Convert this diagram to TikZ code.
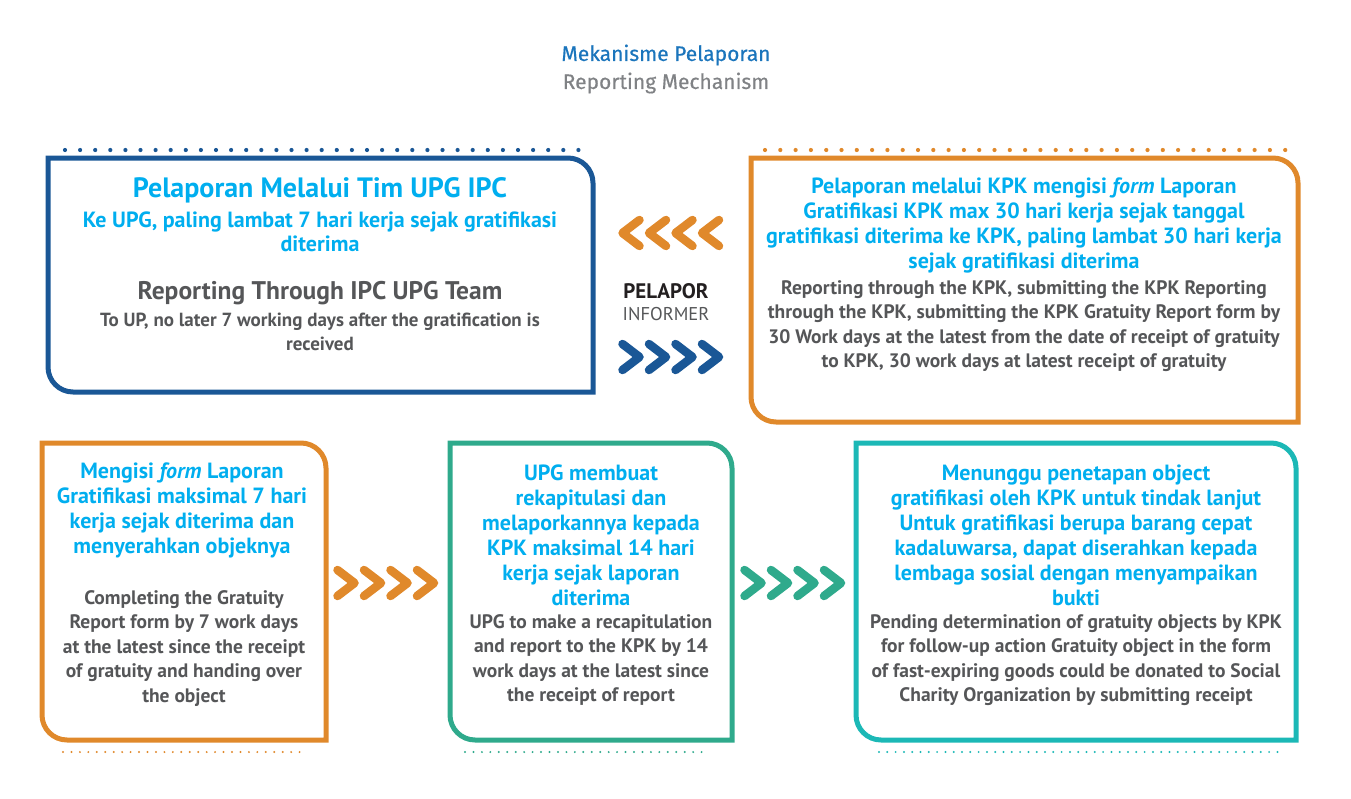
\documentclass[tikz,border=0pt]{standalone}
\usepackage{fontspec}
\setmainfont{PT Sans}
\newfontfamily\titlefont{Fira Sans}[FakeBold=0.5]
\definecolor{cyanT}{HTML}{00AEEF}
\definecolor{grayT}{HTML}{555658}
\definecolor{blueB}{HTML}{1A5796}
\definecolor{orangeB}{HTML}{E0892B}
\definecolor{greenB}{HTML}{2FAA8C}
\definecolor{tealB}{HTML}{1CB8B6}
\definecolor{titleBlue}{HTML}{1B75BC}
\definecolor{titleGray}{HTML}{808285}
\definecolor{darkT}{HTML}{231F20}
\newcommand\ubox[5]{%
  \draw[line width=5pt,#5] (#1,#2) -- ({#3-25},#2) arc[start angle=-90,end angle=0,radius=25]
    -- (#3,#4) -- ({#1+25},#4) arc[start angle=90,end angle=180,radius=25] -- cycle;}
\newcommand\chevR[3]{\draw[chev,#3] ({#1-8.5},{#2-13}) -- ({#1+8.5},#2) -- ({#1-8.5},{#2+13});}
\newcommand\chevL[3]{\draw[chev,#3] ({#1+8.5},{#2-13}) -- ({#1-8.5},#2) -- ({#1+8.5},{#2+13});}
\tikzset{
  chev/.style={line width=8.5pt,line cap=round,line join=round},
  cy/.style={text=cyanT,align=center,inner sep=0pt,font=\bfseries\fontsize{22}{25}\selectfont},
  gr/.style={text=grayT,align=center,inner sep=0pt,font=\bfseries\fontsize{19.5}{24.5}\selectfont},
}
\begin{document}
\begin{tikzpicture}[x=1pt,y=-1pt]
\useasboundingbox (0,0) rectangle (1351,798);
% title
\node[text=titleBlue,font=\titlefont\fontsize{21}{24}\selectfont] (t1) at (666,55) {Mekanisme Pelaporan};
\node[text=titleGray,font=\titlefont\fontsize{21}{24}\selectfont] (t2) at (666,83) {Reporting Mechanism};
% dotted lines
\foreach \i in {0,...,34} {\fill[blueB] ({65+15.1*\i},150) circle (2.1);}
\foreach \i in {0,...,34} {\fill[orangeB] ({765+15.3*\i},150) circle (2.1);}
\foreach \i in {0,...,28} {\fill[orangeB] ({63+8.45*\i},752) circle (1.1);}
\foreach \i in {0,...,28} {\fill[greenB] ({465+8.45*\i},752) circle (1.1);}
\foreach \i in {0,...,48} {\fill[tealB] ({879+8.3*\i},752) circle (1.1);}
% boxes
\ubox{48}{158}{593}{392}{blueB}
\ubox{751}{158}{1298}{422}{orangeB}
\ubox{42}{443}{326}{740}{orangeB}
\ubox{450}{443}{732}{740}{greenB}
\ubox{856}{443}{1296}{740}{tealB}
% chevrons
\foreach \x in {631,657.5,684,710.5} {\chevL{\x}{233}{orangeB}}
\foreach \x in {631,657.5,684,710.5} {\chevR{\x}{357}{blueB}}
\foreach \x in {346,372.5,399,425.5} {\chevR{\x}{583}{orangeB}}
\foreach \x in {753,779.5,806,832.5} {\chevR{\x}{583}{greenB}}
% informer
\node[text=darkT,font=\bfseries\fontsize{21}{24}\selectfont] (pel) at (666,291) {PELAPOR};
\node[text=grayT,font=\fontsize{18.5}{24}\selectfont] (inf) at (666,314) {INFORMER};
% box 1
\node[cy,font=\bfseries\fontsize{28}{30}\selectfont] (b1h) at (320,190) {Pelaporan Melalui Tim UPG IPC};
\node[cy,font=\bfseries\fontsize{22}{24}\selectfont] (b1c) at (320,232) {Ke UPG, paling lambat 7 hari kerja sejak gratifikasi\\diterima};
\node[gr,font=\bfseries\fontsize{25.5}{28}\selectfont] (b1g) at (320,293) {Reporting Through IPC UPG Team};
\node[gr,font=\bfseries\fontsize{19}{24}\selectfont] (b1e) at (320,332) {To UP, no later 7 working days after the gratification is\\received};
% box 2
\node[cy] (b2c) at (1024,225) {Pelaporan melalui KPK mengisi \textit{form} Laporan\\Gratifikasi KPK max 30 hari kerja sejak tanggal\\gratifikasi diterima ke KPK, paling lambat 30 hari kerja\\sejak gratifikasi diterima};
\node[gr] (b2e) at (1024,326) {Reporting through the KPK, submitting the KPK Reporting\\through the KPK, submitting the KPK Gratuity Report form by\\30 Work days at the latest from the date of receipt of gratuity\\to KPK, 30 work days at latest receipt of gratuity};
% box 3
\node[cy] (b3c) at (182,510) {Mengisi \textit{form} Laporan\\Gratifikasi maksimal 7 hari\\kerja sejak diterima dan\\menyerahkan objeknya};
\node[gr] (b3e) at (184,648.5) {Completing the Gratuity\\Report form by 7 work days\\at the latest since the receipt\\of gratuity and handing over\\the object};
% box 4
\node[cy] (b4c) at (591,535) {UPG membuat\\rekapitulasi dan\\melaporkannya kepada\\KPK maksimal 14 hari\\kerja sejak laporan\\diterima};
\node[gr] (b4e) at (591,660) {UPG to make a recapitulation\\and report to the KPK by 14\\work days at the latest since\\the receipt of report};
% box 5
\node[cy] (b5c) at (1076,535) {Menunggu penetapan object\\gratifikasi oleh KPK untuk tindak lanjut\\Untuk gratifikasi berupa barang cepat\\kadaluwarsa, dapat diserahkan kepada\\lembaga sosial dengan menyampaikan\\bukti};
\node[gr] (b5e) at (1076,660) {Pending determination of gratuity objects by KPK\\for follow-up action Gratuity object in the form\\of fast-expiring goods could be donated to Social\\Charity Organization by submitting receipt};
\end{tikzpicture}
\end{document}
